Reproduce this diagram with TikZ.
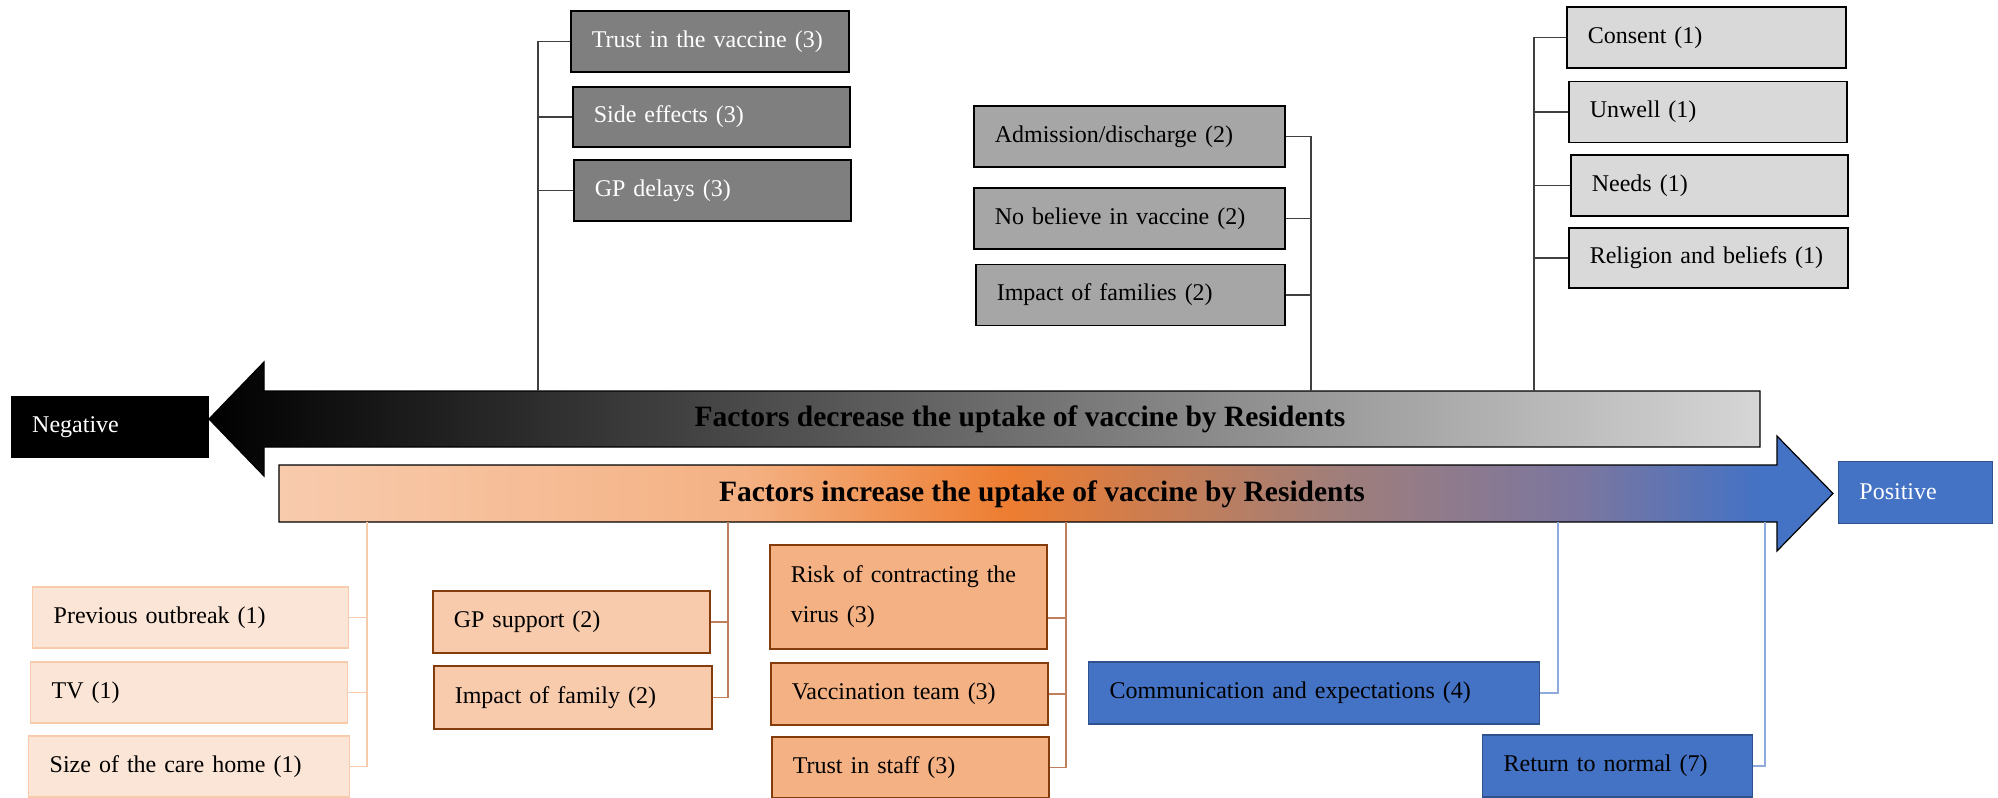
\documentclass[tikz,border=0pt]{standalone}
\usepackage{fontspec}
\setmainfont{Liberation Serif}
\definecolor{darkbox}{HTML}{7F7F7F}
\definecolor{midbox}{HTML}{A6A6A6}
\definecolor{lightbox}{HTML}{D9D9D9}
\definecolor{peachlight}{HTML}{FBE5D6}
\definecolor{peach}{HTML}{F8CBAD}
\definecolor{apricot}{HTML}{F4B183}
\definecolor{rust}{HTML}{843C0C}
\definecolor{rustline}{HTML}{BF7F5A}
\definecolor{orng}{HTML}{ED7D31}
\definecolor{mauve}{HTML}{A07E7A}
\definecolor{dusk}{HTML}{7A76A0}
\definecolor{steelblue}{HTML}{4472C4}
\definecolor{navyline}{HTML}{2F528F}
\definecolor{skyline}{HTML}{8FAADC}
\pgfdeclarehorizontalshading{uptake}{100bp}{color(0bp)=(peach); color(25bp)=(peach); color(40bp)=(apricot); color(48.5bp)=(orng); color(59bp)=(mauve); color(67bp)=(dusk); color(72.6bp)=(steelblue); color(100bp)=(steelblue)}

\begin{document}
\begin{tikzpicture}[x=1pt,y=-1pt,
  fbox/.style={rectangle,anchor=west,minimum height=61pt,inner xsep=21pt,inner ysep=0pt,
    align=left,font=\fontsize{24}{29}\selectfont},
  dkbox/.style={fbox,draw=black,line width=1.6pt,fill=darkbox,text=white},
  mdbox/.style={fbox,draw=black,line width=1.6pt,fill=midbox},
  ltbox/.style={fbox,draw=black,line width=1.6pt,fill=lightbox},
  pchbox/.style={fbox,draw=peach,line width=1.4pt,fill=peachlight},
  gpbox/.style={fbox,draw=rust,line width=1.6pt,fill=peach},
  aprbox/.style={fbox,draw=rust,line width=1.6pt,fill=apricot},
  bluebox/.style={fbox,draw=navyline,line width=1.2pt,fill=steelblue},
  bartext/.style={font=\bfseries\fontsize{29.5}{34}\selectfont},
  darklink/.style={draw=black!75,line width=1.1pt},
  pchlink/.style={draw=peach,line width=1.1pt},
  rustlink/.style={draw=rustline,line width=1.1pt},
  bluelink/.style={draw=skyline,line width=1.1pt}]
  \useasboundingbox (0,0) rectangle (1998,798);

  % Big arrows
  \draw[line width=1.2pt,left color=black,right color=black!16]
    (1760,391) -- (264,391) -- (264,362) -- (209,419) -- (264,476) -- (264,447) -- (1760,447) -- cycle;
  \shadedraw[line width=1.2pt,shading=uptake]
    (279,465) -- (1777,465) -- (1777,436) -- (1833,493.5) -- (1777,551) -- (1777,522) -- (279,522) -- cycle;
  \node[bartext] (decbar) at (1020,419) {Factors decrease the uptake of vaccine by Residents};
  \node[bartext] (incbar) at (1042,494) {Factors increase the uptake of vaccine by Residents};

  % Ends
  \node[fbox,fill=black,text=white,text width=156pt,minimum height=62pt] (neg) at (11,427) {Negative};
  \node[fbox,fill=steelblue,draw=navyline,line width=0.8pt,text=white,text width=112pt,minimum height=62pt] (pos) at (1838,492) {Positive};

  % Decrease factors
  \node[dkbox,text width=236pt] (trust) at (570,41.5) {Trust in the vaccine (3)};
  \node[dkbox,text width=235pt,minimum height=60pt] (side) at (572,117) {Side effects (3)};
  \node[dkbox,text width=235pt] (gpdel) at (573,190.5) {GP delays (3)};

  \node[mdbox,text width=269pt] (admis) at (973,136.5) {Admission/discharge (2)};
  \node[mdbox,text width=269pt] (nobel) at (973,218.5) {No believe in vaccine (2)};
  \node[mdbox,text width=267pt] (impfs) at (975,295) {Impact of families (2)};

  \node[ltbox,text width=237pt] (consent) at (1566,37.5) {Consent (1)};
  \node[ltbox,text width=236pt] (unwell) at (1568,112) {Unwell (1)};
  \node[ltbox,text width=235pt] (needs) at (1570,185.5) {Needs (1)};
  \node[ltbox,text width=237pt,minimum height=60pt] (relig) at (1568,258) {Religion and beliefs (1)};

  % Increase factors
  \node[pchbox,text width=274pt] (prev) at (32,617.5) {Previous outbreak (1)};
  \node[pchbox,text width=275pt] (tv) at (30,692.5) {TV (1)};
  \node[pchbox,text width=279pt] (csize) at (28,766.5) {Size of the care home (1)};

  \node[gpbox,text width=235pt,minimum height=62pt] (gpsup) at (432,622) {GP support (2)};
  \node[gpbox,text width=236pt,minimum height=63pt] (impfam) at (433,697.5) {Impact of family (2)};

  \node[aprbox,text width=235pt,minimum height=104pt] (risk) at (769,597) {Risk of contracting the\\[11pt]virus (3)};
  \node[aprbox,text width=235pt,minimum height=62pt] (vteam) at (770,694) {Vaccination team (3)};
  \node[aprbox,text width=235pt] (tstaff) at (771,767.5) {Trust in staff (3)};

  \node[bluebox,text width=409pt,minimum height=62pt] (comm) at (1088,693) {Communication and expectations (4)};
  \node[bluebox,text width=228pt,minimum height=62pt] (retn) at (1482,766) {Return to normal (7)};

  % Links to the arrows
  \coordinate (tA) at (538,391);
  \coordinate (tB) at (1311,391);
  \coordinate (tC) at (1534,391);
  \coordinate (bA) at (367,522);
  \coordinate (bB) at (728,522);
  \coordinate (bC) at (1066,522);
  \coordinate (bD) at (1558,522);
  \coordinate (bE) at (1765,522);

  \draw[darklink] (tA) |- (trust.west);
  \draw[darklink] (tA) |- (side.west);
  \draw[darklink] (tA) |- (gpdel.west);
  \draw[darklink] (tB) |- (admis.east);
  \draw[darklink] (tB) |- (nobel.east);
  \draw[darklink] (tB) |- (impfs.east);
  \draw[darklink] (tC) |- (consent.west);
  \draw[darklink] (tC) |- (unwell.west);
  \draw[darklink] (tC) |- (needs.west);
  \draw[darklink] (tC) |- (relig.west);

  \draw[pchlink] (bA) |- (prev.east);
  \draw[pchlink] (bA) |- (tv.east);
  \draw[pchlink] (bA) |- (csize.east);
  \draw[rustlink] (bB) |- (gpsup.east);
  \draw[rustlink] (bB) |- (impfam.east);
  \draw[rustlink] (bC) |- ([yshift=-21pt]risk.east);
  \draw[rustlink] (bC) |- (vteam.east);
  \draw[rustlink] (bC) |- (tstaff.east);
  \draw[bluelink] (bD) |- (comm.east);
  \draw[bluelink] (bE) |- (retn.east);
\end{tikzpicture}
\end{document}
